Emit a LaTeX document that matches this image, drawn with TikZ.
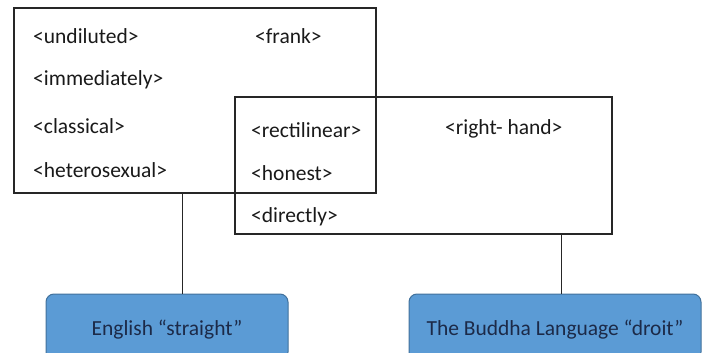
\documentclass[tikz,border=0pt]{standalone}
\usepackage{fontspec}
\setmainfont{Carlito}
\begin{document}
\definecolor{cellblue}{HTML}{5B9BD5}
\definecolor{celledge}{HTML}{41719C}
\definecolor{celltext}{HTML}{1C2A48}
\begin{tikzpicture}[x=1pt,y=-1pt,
  frame/.style={draw=black!85, line width=1.3pt, inner sep=0pt},
  word/.style={anchor=west, inner sep=0pt, font=\fontsize{21.5}{24}\selectfont, text=black!90},
  tag/.style={draw=celledge, fill=cellblue, line width=1pt, rounded corners=8pt,
    inner sep=0pt},
  tagtext/.style={text=celltext, font=\fontsize{21.5}{24}\selectfont},
  link/.style={draw=black!85, line width=0.9pt}]
\useasboundingbox (0,0) rectangle (709,353);
\begin{scope}
\clip (0,0) rectangle (709,353);
% language boxes at the bottom
\node[tag, minimum width=242pt, minimum height=66pt] (eng) at (167,327) {};
\node[tag, minimum width=292pt, minimum height=66pt] (bud) at (555,327) {};
\end{scope}
\node[tagtext] (engt) at (167,330) {English “straight”};
\node[tagtext] (budt) at (555,330) {The Buddha Language “droit”};
% sense frames
\node[frame, minimum width=362pt, minimum height=185pt] (boxA) at (195,100.5) {};
\node[frame, minimum width=377pt, minimum height=137pt] (boxB) at (423.5,165.5) {};
% senses of "straight"
\node[word] (w1) at (33,36) {<undiluted>};
\node[word] (w2) at (255,36) {<frank>};
\node[word] (w3) at (33,80) {<immediately>};
\node[word] (w4) at (33,126) {<classical>};
\node[word] (w5) at (33,170) {<heterosexual>};
% shared and "droit" senses
\node[word] (w6) at (251,130) {<rectilinear>};
\node[word] (w7) at (445,129) {<right- hand>};
\node[word] (w8) at (251,173) {<honest>};
\node[word] (w9) at (251,217) {<directly>};
% connectors
\draw[link] (boxA.south -| 182,0) -- (eng.north -| 182,0);
\draw[link] (boxB.south -| 561,0) -- (bud.north -| 561,0);
\end{tikzpicture}
\end{document}
